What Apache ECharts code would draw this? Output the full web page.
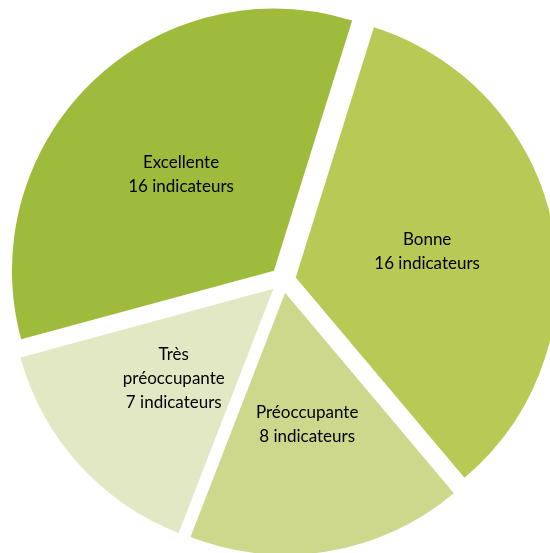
<!DOCTYPE html>
<html>
<head>
<meta charset="utf-8">
<script src="https://cdn.jsdelivr.net/npm/echarts@6/dist/echarts.min.js"></script>
<style>
html,body{margin:0;padding:0;background:#fff;}
#chart{width:550px;height:553px;}
</style>
</head>
<body>
<div id="chart"></div>
<script>
const categories = ['Excellente', 'Bonne', 'Préoccupante', 'Très préoccupante'];
const values = [16, 16, 8, 7];
const unitLabel = 'indicateurs';
const colors = ['#9EBB3B', '#B9C956', '#CDD88C', '#E3E8C4'];

const chart = echarts.init(document.getElementById('chart'), null, {renderer: 'canvas'});
const data = categories.map((c, i) => ({
  name: c,
  value: values[i],
  selected: true,
  itemStyle: {color: colors[i]},
  select: {itemStyle: {color: colors[i]}}
}));
chart.setOption({
  animation: false,
  backgroundColor: '#ffffff',
  series: [{
    type: 'pie',
    center: [283, 280],
    radius: [0, 262],
    startAngle: 195.2,
    clockwise: true,
    selectedMode: 'multiple',
    selectedOffset: 13,
    emphasis: {disabled: true},
    itemStyle: {borderWidth: 0},
    label: {
      show: true,
      position: 'inside',
      color: '#000000',
      fontFamily: 'Lato',
      fontSize: 17,
      lineHeight: 24,
      align: 'center',
      formatter: p => p.name.replace('Très ', 'Très\n') + '\n' + p.value + ' ' + unitLabel
    },
    labelLine: {show: false},
    data: data
  }]
});
</script>
</body>
</html>
